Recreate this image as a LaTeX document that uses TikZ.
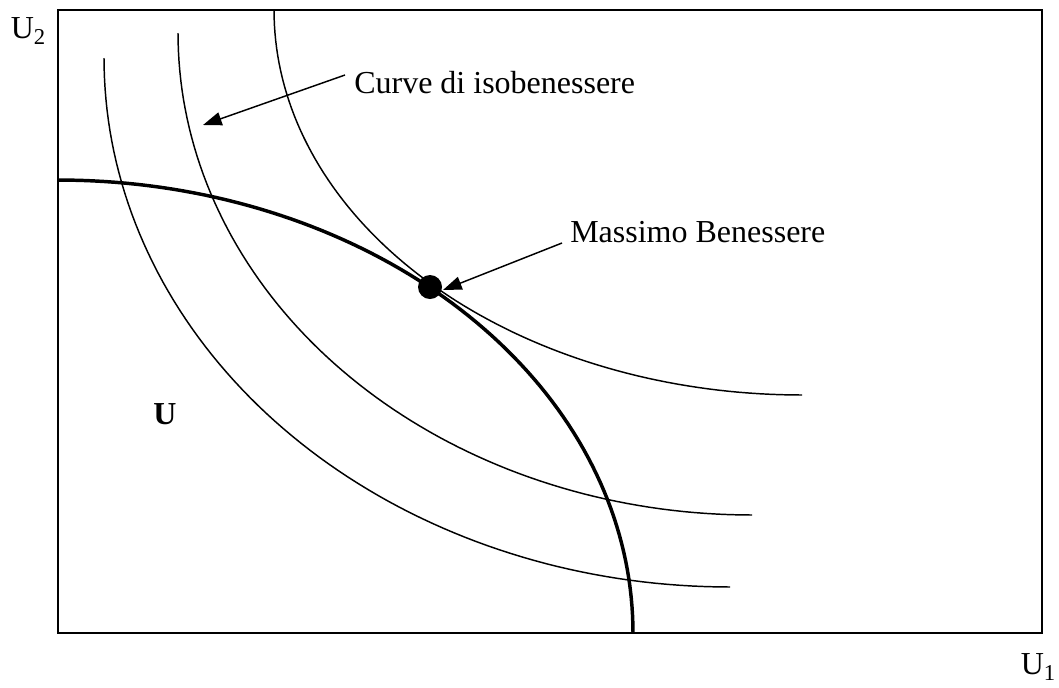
\documentclass[tikz,border=0pt]{standalone}
\usepackage{fontspec}
\setmainfont{Liberation Serif}
\usetikzlibrary{arrows.meta,calc,positioning}

\newcommand{\axsub}[1]{\raisebox{-0.18em}{\fontsize{17}{17}\selectfont #1}}

\begin{document}
\begin{tikzpicture}[
  x=0.75pt, y=-0.75pt,
  font=\fontsize{24}{28}\selectfont,
  frame/.style={line width=1.5pt},
  isocurve/.style={line width=1.1pt},
  frontier/.style={line width=2.6pt},
  pointer/.style={-{Triangle[length=14pt,width=10pt]}, line width=1.1pt},
  label/.style={anchor=west, inner sep=0pt}
]
  \useasboundingbox (0,0) rectangle (1059,687);

  % axes box
  \draw[frame] (58,10) rectangle (1042,633);
  \node[inner sep=0pt] (axisy) at (28,31) {U\axsub{2}};
  \node[inner sep=0pt] (axisx) at (1038,667) {U\axsub{1}};

  % utility frontier
  \draw[frontier] plot[domain=-90:0, samples=80]
    ({58+575*cos(\x)},{633+453*sin(\x)});

  % three isowelfare curves
  \foreach \cx/\cy/\a/\b in {730/58/626/529, 752/33/574/482, 802/10/528/385} {
    \draw[isocurve] plot[domain=180:90, samples=80]
      ({\cx+\a*cos(\x)},{\cy+\b*sin(\x)});
  }

  \node[circle, fill, inner sep=0pt, minimum size=18pt] (opt) at (430,287) {};
  \node[font=\fontsize{24}{28}\selectfont\bfseries] (region) at (165,414) {U};

  \node[label] (lblcurve) at (354,83) {Curve di isobenessere};
  \node[label] (lblmax) at (570,232) {Massimo Benessere};

  \coordinate (tipcurve) at (203,125);
  \coordinate (tipmax) at (443,290);
  \draw[pointer] ($(lblcurve.west)+(-9,-8)$) -- (tipcurve);
  \draw[pointer] ($(lblmax.west)+(-8,11)$) -- (tipmax);
\end{tikzpicture}
\end{document}
